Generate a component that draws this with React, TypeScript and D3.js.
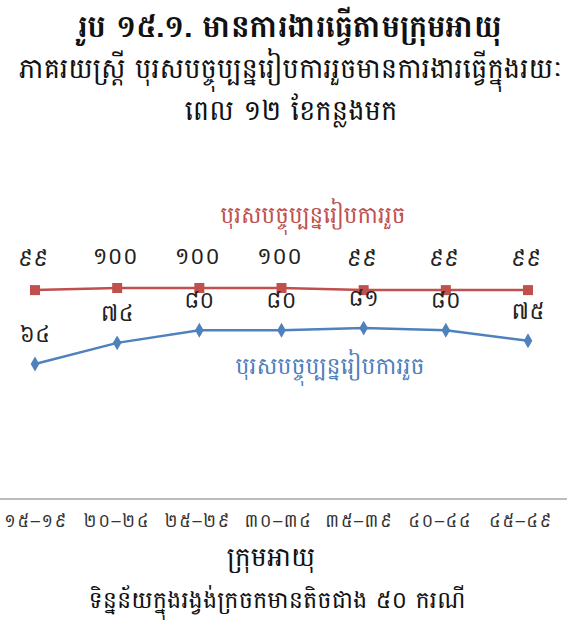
import React from "react";
import * as d3 from "d3";

const ageGroups = ["១៥–១៩", "២០–២៤", "២៥–២៩", "៣០–៣៤", "៣៥–៣៩", "៤០–៤៤", "៤៥–៤៩"];
const menValues = [99, 100, 100, 100, 99, 99, 99];
const womenValues = [64, 74, 80, 80, 81, 80, 75];
const menLabels = ["៩៩", "១០០", "១០០", "១០០", "៩៩", "៩៩", "៩៩"];
const womenLabels = ["៦៤", "៧៤", "៨០", "៨០", "៨១", "៨០", "៧៥"];

const titleText = "រូប ១៥.១. មានការងារធ្វើតាមក្រុមអាយុ";
const subtitleLines = ["ភាគរយស្ត្រី បុរសបច្ចុប្បន្នរៀបការរួចមានការងារធ្វើក្នុងរយៈ", "ពេល ១២ ខែកន្លងមក"];
const menSeriesName = "បុរសបច្ចុប្បន្នរៀបការរួច";
const womenSeriesName = "បុរសបច្ចុប្បន្នរៀបការរួច";
const xAxisTitle = "ក្រុមអាយុ";
const footnote = "ទិន្នន័យក្នុងរង្វង់ក្រចកមានតិចជាង ៥០ ករណី";

const W = 583;
const H = 629;
const FONT = "'Khmer OS Battambang', 'Battambang', 'Khmer OS', 'Noto Serif Khmer', 'Noto Sans Khmer', sans-serif";
const RED = "#C0504D";
const BLUE = "#4F81BD";

export default function App() {
  const x = d3.scalePoint<string>().domain(ageGroups).range([35, 528]);
  const xTick = d3.scalePoint<string>().domain(ageGroups).range([36, 521]);
  const y = d3.scaleLinear().domain([0, 100]).range([499, 288]);

  const menPts = ageGroups.map((g, i) => [x(g) as number, y(menValues[i])] as [number, number]);
  const womenPts = ageGroups.map((g, i) => [x(g) as number, y(womenValues[i])] as [number, number]);
  const line = d3.line();
  const diamond = d3.symbol().type(d3.symbolDiamond).size(64);

  return (
    <svg width={W} height={H} style={{ position: "absolute", left: 0, top: 0 }} fontFamily={FONT}>
      <rect width={W} height={H} fill="#fff" />
      <text x={290} y={37} textAnchor="middle" fontSize={30.5} fontWeight="bold" fill="#111">{titleText}</text>
      <text x={291} y={78} textAnchor="middle" fontSize={27.5} fill="#111">{subtitleLines[0]}</text>
      <text x={291} y={120} textAnchor="middle" fontSize={27.5} fill="#111">{subtitleLines[1]}</text>

      <line x1={0} x2={567} y1={499} y2={499} stroke="#a6a6a6" strokeWidth={1.5} />

      <path d={line(menPts) || ""} fill="none" stroke={RED} strokeWidth={2.5} />
      {menPts.map((p, i) => (
        <rect key={"m" + i} x={p[0] - 5} y={p[1] - 5} width={10} height={10} fill={RED} />
      ))}
      <path d={line(womenPts) || ""} fill="none" stroke={BLUE} strokeWidth={2.5} />
      {womenPts.map((p, i) => (
        <path key={"w" + i} d={diamond() || ""} transform={`translate(${p[0]},${p[1]})`} fill={BLUE} />
      ))}

      {menPts.map((p, i) => (
        <text key={"ml" + i} x={p[0] - 2} y={p[1] - 24} textAnchor="middle" fontSize={23} fill="#222">{menLabels[i]}</text>
      ))}
      {womenPts.map((p, i) => (
        <text key={"wl" + i} x={p[0]} y={p[1] - 22} textAnchor="middle" fontSize={23} fill="#222">{womenLabels[i]}</text>
      ))}

      <text x={313} y={223} textAnchor="middle" fontSize={23} fill={RED}>{menSeriesName}</text>
      <text x={330} y={374} textAnchor="middle" fontSize={23.5} fill={BLUE}>{womenSeriesName}</text>

      {ageGroups.map((g) => (
        <text key={g} x={xTick(g) as number} y={527} textAnchor="middle" fontSize={18} letterSpacing={1.5} fill="#333">{g}</text>
      ))}
      <text x={271} y={566} textAnchor="middle" fontSize={27} fill="#111">{xAxisTitle}</text>
      <text x={277} y={608} textAnchor="middle" fontSize={24} fill="#111">{footnote}</text>
    </svg>
  );
}
